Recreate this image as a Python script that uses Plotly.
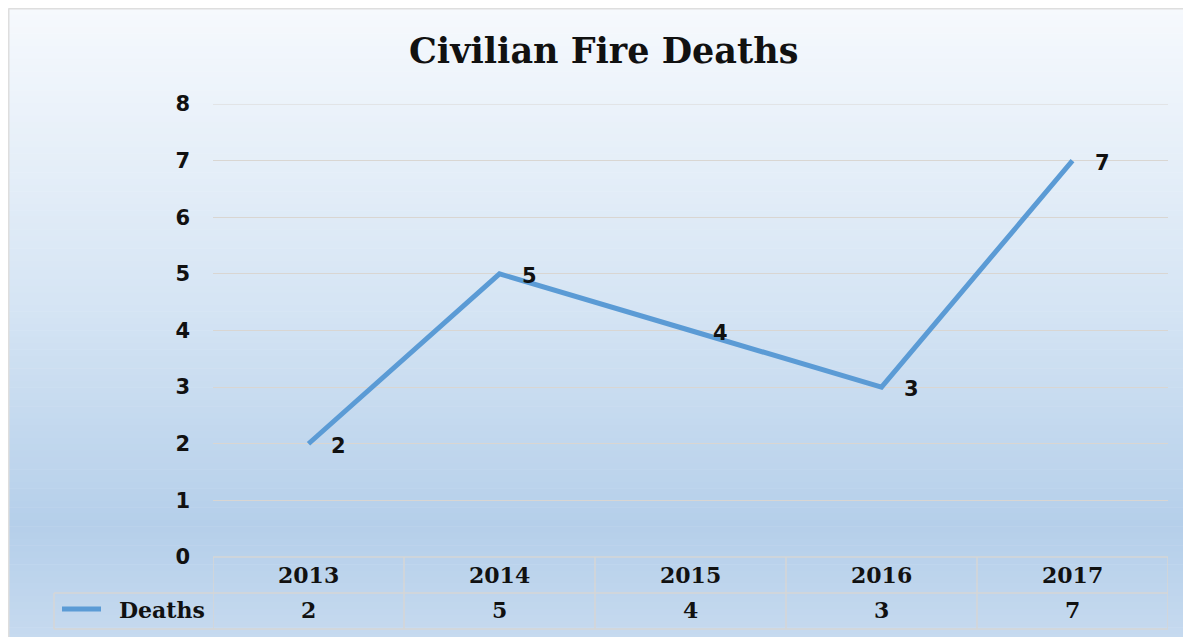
import plotly.graph_objects as go

# ---- data ----
years = ["2013", "2014", "2015", "2016", "2017"]
deaths = [2, 5, 4, 3, 7]
series_name = "Deaths"
title_text = "Civilian Fire Deaths"
y_ticks = [0, 1, 2, 3, 4, 5, 6, 7, 8]

OFF = 8  # page body margin
W, H = 1191 - OFF, 637 - OFF
L, R, T, B = 213 - OFF, 23, 104 - OFF, 80
PW, PH = W - L - R, H - T - B

def px_x(sx):
    return (sx - OFF - L) / PW

def px_y(sy):
    return (H - B - (sy - OFF)) / PH

LINE = "#5b9bd5"
GRID = "#d9d6d2"
TABLE = "#d6d6d6"

fig = go.Figure()
fig.add_trace(go.Scatter(
    x=years, y=deaths, mode="lines", name=series_name,
    line=dict(color=LINE, width=5), showlegend=False, hoverinfo="x+y",
))

shapes = []
def lerp(c1, c2, t):
    return tuple(round(a + (b - a) * t) for a, b in zip(c1, c2))

stops = [(8, (246, 249, 253)), (300, (214, 229, 244)), (525, (181, 207, 234)), (640, (198, 218, 239))]
top, bot = 8, 640
n = 100
for i in range(n):
    y0 = top + (bot - top) * i / n
    y1 = top + (bot - top) * (i + 1) / n
    ym = (y0 + y1) / 2
    for (a, ca), (b, cb) in zip(stops[:-1], stops[1:]):
        if a <= ym <= b:
            c = lerp(ca, cb, (ym - a) / (b - a))
            break
    shapes.append(dict(type="rect", xref="paper", yref="paper", layer="below",
                       x0=px_x(7), x1=px_x(1200), y0=px_y(y1 + 0.5), y1=px_y(y0),
                       fillcolor="rgb(%d,%d,%d)" % c, line=dict(width=0)))
# outer border (top and left)
shapes.append(dict(type="line", xref="paper", yref="paper", x0=px_x(8.5), x1=px_x(1200),
                   y0=px_y(8.5), y1=px_y(8.5), line=dict(color="#dedede", width=2)))
shapes.append(dict(type="line", xref="paper", yref="paper", x0=px_x(8.5), x1=px_x(8.5),
                   y0=px_y(8.5), y1=px_y(640), line=dict(color="#dedede", width=2)))
# top gridline (plotly drops the gridline at the range edge)
shapes.append(dict(type="line", xref="paper", yref="y", x0=0, x1=1,
                   y0=y_ticks[-1], y1=y_ticks[-1], layer="below", line=dict(color=GRID, width=1)))

# data table lines
row_top, row_mid, row_bot = 557, 593, 629
left_col = 54
for yy, x_start in [(row_top, 213), (row_mid, left_col), (row_bot, left_col)]:
    shapes.append(dict(type="line", xref="paper", yref="paper", x0=px_x(x_start), x1=1,
                       y0=px_y(yy), y1=px_y(yy), line=dict(color=TABLE, width=1.5)))
for k in range(len(years) + 1):
    shapes.append(dict(type="line", xref="x", yref="paper", x0=k - 0.5, x1=k - 0.5,
                       y0=px_y(row_top), y1=px_y(row_bot), line=dict(color=TABLE, width=1.5)))
shapes.append(dict(type="line", xref="paper", yref="paper", x0=px_x(left_col), x1=px_x(left_col),
                   y0=px_y(row_mid), y1=px_y(row_bot), line=dict(color=TABLE, width=1.5)))
# legend key
shapes.append(dict(type="line", xref="paper", yref="paper", x0=px_x(62), x1=px_x(101),
                   y0=px_y(609), y1=px_y(609), line=dict(color=LINE, width=5)))

annotations = []
serif = dict(family="DejaVu Serif", size=22, color="#111111", weight="bold")
sans = dict(family="DejaVu Sans", size=21, color="#111111", weight="bold")
annotations.append(dict(text=title_text, xref="paper", yref="paper", x=px_x(603), y=px_y(50),
                        xanchor="center", yanchor="middle", showarrow=False,
                        font=dict(family="DejaVu Serif", size=35, color="#111111", weight="bold")))
for i, (yr, v) in enumerate(zip(years, deaths)):
    annotations.append(dict(text=yr, xref="x", yref="paper", x=i, y=px_y(575),
                            xanchor="center", yanchor="middle", showarrow=False, font=serif))
    annotations.append(dict(text=str(v), xref="x", yref="paper", x=i, y=px_y(610),
                            xanchor="center", yanchor="middle", showarrow=False, font=serif))
    annotations.append(dict(text=str(v), xref="x", yref="y", x=i, y=v, xshift=30, yshift=-2,
                            xanchor="center", yanchor="middle", showarrow=False, font=sans))
annotations.append(dict(text=series_name, xref="paper", yref="paper", x=px_x(207), y=px_y(610),
                        xanchor="right", yanchor="middle", showarrow=False, font=serif))

fig.update_layout(
    width=W, height=H,
    margin=dict(l=L, r=R, t=T, b=B),
    paper_bgcolor="white", plot_bgcolor="rgba(0,0,0,0)",
    shapes=shapes, annotations=annotations,
    xaxis=dict(type="category", range=[-0.5, len(years) - 0.5], showticklabels=False,
               showgrid=False, zeroline=False, showline=False, fixedrange=True),
    yaxis=dict(range=[0, 8], tickvals=y_ticks, showgrid=True, gridcolor=GRID, gridwidth=1,
               zeroline=False, showline=False, ticklabelstandoff=22,
               tickfont=sans, fixedrange=True),
)

fig.write_html("out.html")
